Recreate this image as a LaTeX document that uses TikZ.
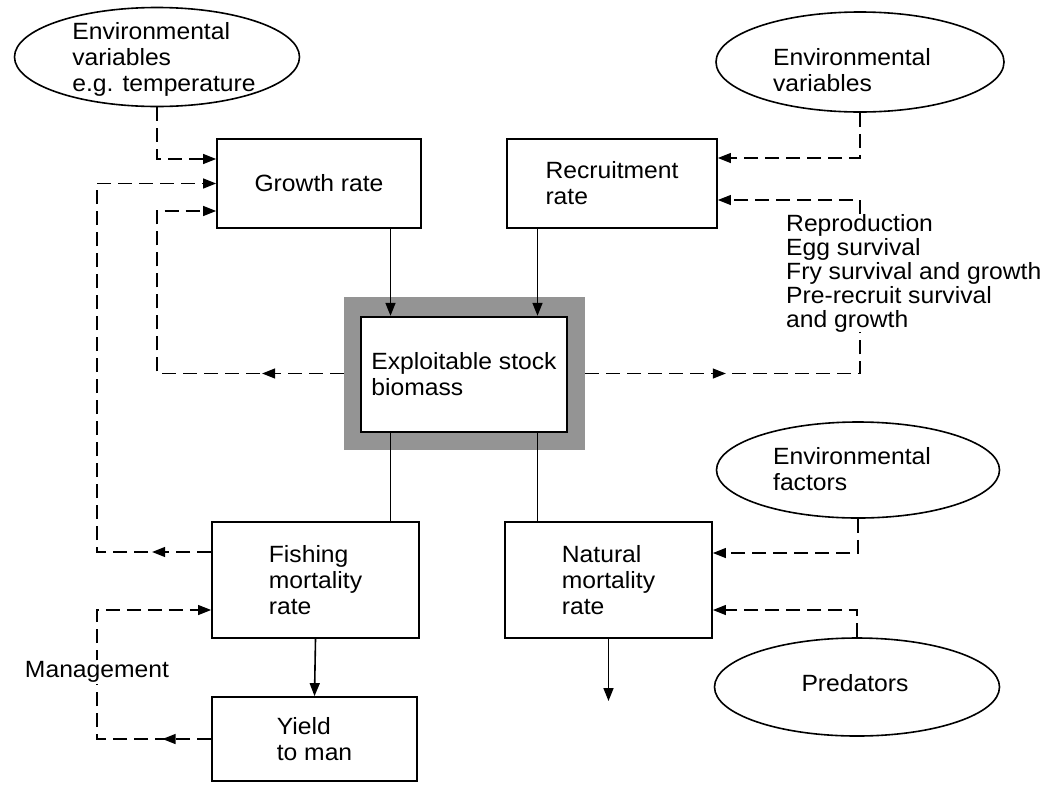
\documentclass[tikz,border=0pt]{standalone}
\usepackage{fontspec}
\setmainfont{Liberation Sans}[FakeStretch=1.05]
\usetikzlibrary{arrows.meta,shapes.geometric,decorations.markings}

\begin{document}
\begin{tikzpicture}[x=1pt,y=-1pt,
  font=\fontsize{23.5}{26}\selectfont,
  >={Triangle[length=13pt,width=10pt]},
  box/.style={draw,line width=1.8pt,align=left,inner sep=0pt},
  envell/.style={draw,ellipse,line width=1.6pt,inner sep=0pt},
  txt/.style={align=left,inner sep=0pt},
  dashline/.style={line width=1.2pt,dash pattern=on 14pt off 7pt},
  solidline/.style={line width=1.6pt},
  midarrow/.style={postaction={decorate},decoration={markings,mark=at position #1 with {\arrow{>}}}}
]
\useasboundingbox (0,0) rectangle (1048,785);

% outside influences
\node[envell,minimum width=285pt,minimum height=99pt] (env1) at (157,57) {};
\node[txt] (env1txt) at (164,59) {Environmental\\variables\\e.g. temperature};
\node[envell,minimum width=288pt,minimum height=100pt] (env2) at (860,62) {};
\node[txt] (env2txt) at (852,70) {Environmental\\variables};
\node[envell,minimum width=283pt,minimum height=96pt] (env3) at (858,470) {};
\node[txt] (env3txt) at (852,469.5) {Environmental\\factors};
\node[envell,minimum width=285pt,minimum height=98pt] (pred) at (857,687) {};
\node[txt] (predtxt) at (855,683) {Predators};

% rates and the stock
\node[box,minimum width=204pt,minimum height=89pt] (growth) at (319,183.5) {Growth rate};
\node[box,minimum width=210pt,minimum height=89pt] (recruit) at (612,183.5) {Recruitment\\rate};
\node[fill=black!42,minimum width=241pt,minimum height=153pt] (bioframe) at (464.5,373.5) {};
\node[box,fill=white,line width=2.4pt,minimum width=206pt,minimum height=115pt] (bio) at (464,374.5) {Exploitable stock\\biomass};
\node[txt,anchor=north west,font=\fontsize{23.5}{24}\selectfont] (repro) at (786,214) {Reproduction\\Egg survival\\Fry survival and growth\\Pre-recruit survival\\and growth};
\node[box,minimum width=207pt,minimum height=116pt] (fishing) at (315.5,580) {Fishing\\mortality\\rate};
\node[box,minimum width=207pt,minimum height=116pt] (natural) at (608.5,580) {Natural\\mortality\\rate};
\node[box,minimum width=205pt,minimum height=84pt] (yield) at (314.5,739) {Yield\\to man};

\coordinate (inG) at ([xshift=-73.5pt]bio.north);
\coordinate (inR) at ([xshift=73.5pt]bio.north);
\coordinate (natout) at (608.5,701);
\coordinate (mgx) at (97,672);

% flows
\draw[solidline,->] (growth.south -| inG) -- (inG);
\draw[solidline,->] (recruit.south -| inR) -- (inR);
\draw[solidline] (bio.south -| inG) -- (fishing.north -| inG);
\draw[solidline] (bio.south -| inR) -- (natural.north -| inR);
\draw[solidline,->] (fishing.south) -- (yield.north);
\draw[solidline,->] (natural.south) -- (natout);

% influences
\draw[dashline,->] (env1.south) |- ([yshift=24.5pt]growth.west);
\draw[dashline,->] (env2.south) |- ([yshift=25.5pt]recruit.east);
\draw[dashline,->] (env3.south) |- ([yshift=27pt]natural.east);
\draw[dashline,->] (pred.north) |- ([yshift=-30pt]natural.east);
\draw[dashline,->,midarrow=0.2] (bioframe.west) -- (bioframe.west -| env1.south) |- ([yshift=-27.5pt]growth.west);
\draw[dashline,midarrow=0.445] (bioframe.east) -- (bioframe.east -| env2.south) -- (repro.south -| env2.south);
\draw[dashline,->] (repro.north -| env2.south) |- ([yshift=-16.5pt]recruit.east);
\draw[dashline,->,midarrow=0.098] ([yshift=28pt]fishing.west) -- ([yshift=28pt]fishing.west -| mgx) |- (growth.west);
\draw[dashline,->,midarrow=0.136] (yield.west) -- (yield.west -| mgx) |- ([yshift=-30pt]fishing.west);
\node[fill=white,inner sep=1pt] (mgmt) at (mgx) {Management};
\end{tikzpicture}
\end{document}
